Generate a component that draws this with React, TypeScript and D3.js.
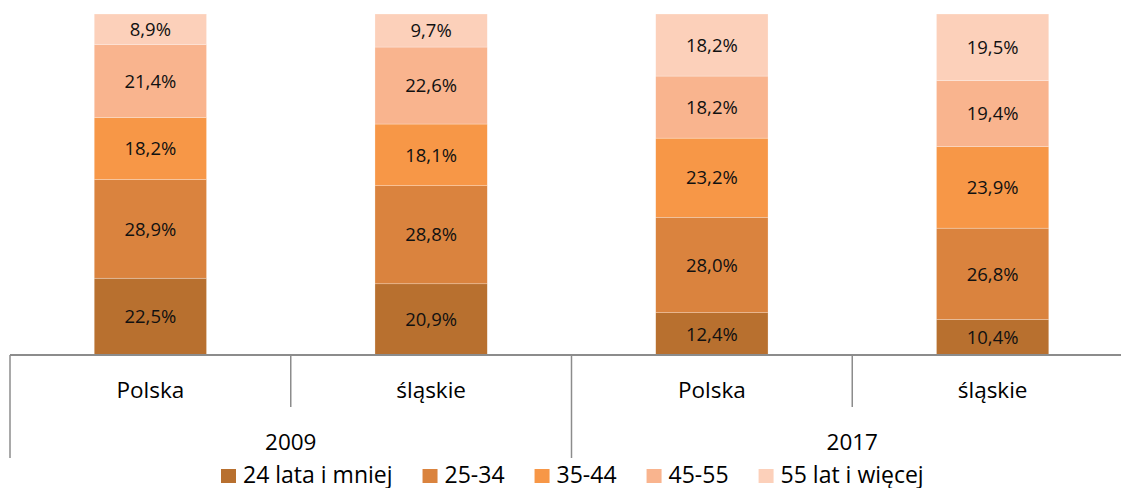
import React, { useEffect, useRef } from 'react';
import * as d3 from 'd3';

const years = ['2009', '2017'];
const regions = ['Polska', 'śląskie'];
const ageGroups = ['24 lata i mniej', '25-34', '35-44', '45-55', '55 lat i więcej'];
const colors = ['#b8702f', '#da833e', '#f79747', '#f9b48e', '#fcd0ba'];

// udział w % – kolejność: 24-, 25-34, 35-44, 45-55, 55+
const polska2009 = [22.5, 28.9, 18.2, 21.4, 8.9];
const slaskie2009 = [20.9, 28.8, 18.1, 22.6, 9.7];
const polska2017 = [12.4, 28.0, 23.2, 18.2, 18.2];
const slaskie2017 = [10.4, 26.8, 23.9, 19.4, 19.5];

const series = [polska2009, slaskie2009, polska2017, slaskie2017];

const W = 1121;
const H = 488;
const FONT = '"Open Sans", sans-serif';

export default function App() {
  const ref = useRef<SVGSVGElement | null>(null);

  useEffect(() => {
    document.body.style.margin = '0';
    const svg = d3.select(ref.current);
    svg.selectAll('*').remove();

    const left = 10;
    const right = 1133;
    const top = 14;
    const bottom = 355;

    const rows = series.map((vals, i) => {
      const r: any = { key: i };
      ageGroups.forEach((g, j) => { r[g] = vals[j]; });
      return r;
    });

    const x = d3.scaleBand<number>()
      .domain(d3.range(series.length))
      .range([left, right])
      .paddingInner(0)
      .paddingOuter(0);

    const y = d3.scaleLinear().domain([0, 1]).range([bottom, top]);

    const stack = d3.stack<any>().keys(ageGroups).offset(d3.stackOffsetExpand);
    const stacked = stack(rows);

    const barW = x.bandwidth() * 0.4;

    const layer = svg.selectAll('.layer')
      .data(stacked)
      .enter().append('g')
      .attr('class', 'layer')
      .attr('fill', (d, i) => colors[i]);

    layer.selectAll('rect')
      .data((d) => d)
      .enter().append('rect')
      .attr('x', (d, i) => x(i)! + (x.bandwidth() - barW) / 2)
      .attr('width', barW)
      .attr('y', (d) => y(d[1]))
      .attr('height', (d) => y(d[0]) - y(d[1]))
      .attr('stroke', 'rgba(255,255,255,0.5)')
      .attr('stroke-width', 0.5);

    // etykiety wartości
    stacked.forEach((s, j) => {
      svg.append('g').selectAll('text')
        .data(s)
        .enter().append('text')
        .attr('x', (d, i) => x(i)! + x.bandwidth() / 2)
        .attr('y', (d) => (y(d[0]) + y(d[1])) / 2)
        .attr('dy', '0.36em')
        .attr('text-anchor', 'middle')
        .style('font-family', FONT)
        .style('font-size', '18.5px')
        .style('fill', '#111')
        .text((d, i) => series[i][j].toFixed(1).replace('.', ',') + '%');
    });

    // oś
    const axisColor = '#8c8c8c';
    svg.append('line')
      .attr('x1', left).attr('x2', right)
      .attr('y1', bottom).attr('y2', bottom)
      .attr('stroke', axisColor).attr('stroke-width', 2);

    d3.range(series.length + 1).forEach((i) => {
      const xp = i < series.length ? x(i)! : right;
      const long = i % 2 === 0;
      svg.append('line')
        .attr('x1', xp).attr('x2', xp)
        .attr('y1', bottom).attr('y2', long ? 458 : 407)
        .attr('stroke', axisColor).attr('stroke-width', 1.5);
    });

    svg.append('g').selectAll('text')
      .data(series)
      .enter().append('text')
      .attr('x', (d, i) => x(i)! + x.bandwidth() / 2)
      .attr('y', 398)
      .attr('text-anchor', 'middle')
      .style('font-family', FONT)
      .style('font-size', '22.5px')
      .style('fill', '#000')
      .text((d, i) => regions[i % 2]);

    svg.append('g').selectAll('text')
      .data(years)
      .enter().append('text')
      .attr('x', (d, i) => x(i * 2)! + x.bandwidth())
      .attr('y', 450)
      .attr('text-anchor', 'middle')
      .style('font-family', FONT)
      .style('font-size', '22.5px')
      .style('fill', '#000')
      .text((d) => d);

    // legenda
    const leg = svg.append('g');
    let lx = 221;
    ageGroups.forEach((g, i) => {
      leg.append('rect')
        .attr('x', lx).attr('y', 469)
        .attr('width', 15).attr('height', 14)
        .attr('fill', colors[i]);
      const t = leg.append('text')
        .attr('x', lx + 22).attr('y', 483)
        .style('font-family', FONT)
        .style('font-size', '23px')
        .style('fill', '#000')
        .text(g);
      const tw = (t.node() as SVGTextElement).getComputedTextLength();
      lx += 22 + tw + 30;
    });
  }, []);

  return <svg ref={ref} width={W} height={H} style={{ display: 'block' }} />;
}
